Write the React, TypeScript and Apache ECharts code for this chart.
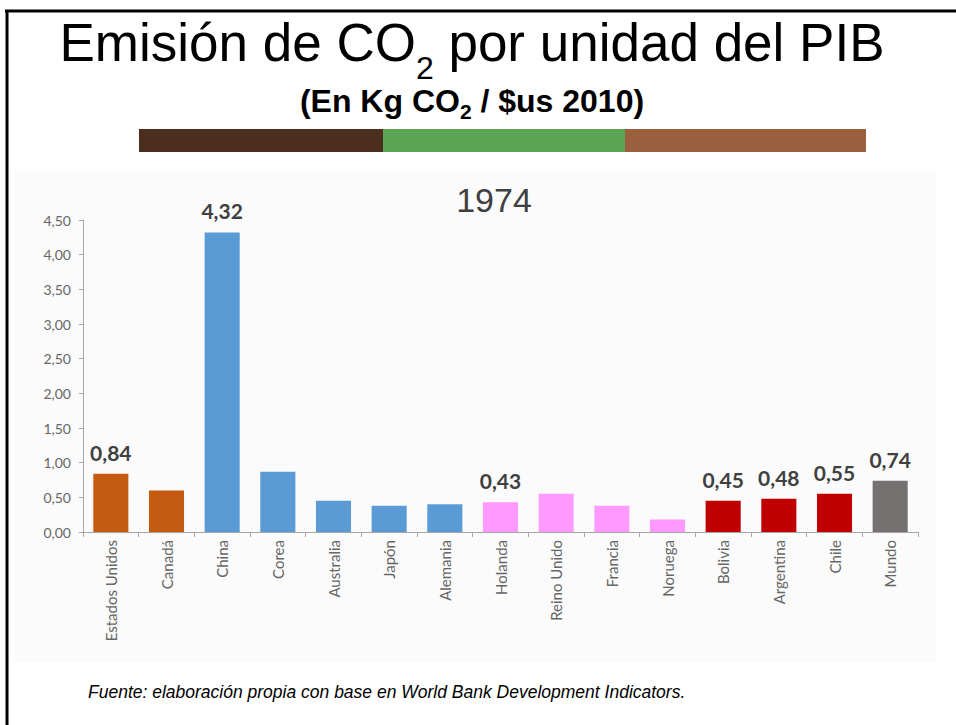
import React, { useEffect, useRef } from "react";
import * as echarts from "echarts";

const categories = ["Estados Unidos", "Canadá", "China", "Corea", "Australia", "Japón", "Alemania", "Holanda", "Reino Unido", "Francia", "Noruega", "Bolivia", "Argentina", "Chile", "Mundo"];
const values = [0.84, 0.60, 4.32, 0.87, 0.45, 0.38, 0.40, 0.43, 0.55, 0.38, 0.18, 0.45, 0.48, 0.55, 0.74];
const groups = ["na", "na", "asia", "asia", "asia", "asia", "asia", "eu", "eu", "eu", "eu", "la", "la", "la", "world"];
const labelled = [true, false, true, false, false, false, false, true, false, false, false, true, true, true, true];
const groupColors: Record<string, string> = {
  na: "#C55A11",
  asia: "#5B9BD5",
  eu: "#FF99FF",
  la: "#C00000",
  world: "#767171",
};
const yTicks = [0, 0.5, 1, 1.5, 2, 2.5, 3, 3.5, 4, 4.5];
const chartYear = "1974";
const titleParts = ["Emisión de CO", "2", " por unidad del PIB"];
const subtitleParts = ["(En Kg CO", "2", " / $us 2010)"];
const footer = "Fuente: elaboración propia con base en World Bank Development Indicators.";
const stripeColors = ["#4B2E1E", "#5BA555", "#9A5F3C"];

const fmt = (v: number) => v.toFixed(2).replace(".", ",");

function measure(text: string, font: string): number {
  const c = document.createElement("canvas").getContext("2d");
  if (!c) return text.length * 10;
  c.font = font;
  return c.measureText(text).width;
}

function subscriptText(parts: string[], cx: number, yMain: number, ySub: number, size: number, subSize: number, weight: string) {
  const fam = "'Liberation Sans', Arial, sans-serif";
  const f1 = `${weight} ${size}px ${fam}`;
  const f2 = `${weight} ${subSize}px ${fam}`;
  const w0 = measure(parts[0], f1);
  const w1 = measure(parts[1], f2);
  const w2 = measure(parts[2], f1);
  const x0 = cx - (w0 + w1 + w2) / 2;
  const base = { fill: "#000", fontFamily: fam, fontWeight: weight as any };
  return [
    { type: "text", x: x0, y: yMain, style: { ...base, text: parts[0], fontSize: size, textAlign: "left", textVerticalAlign: "middle" } },
    { type: "text", x: x0 + w0, y: ySub, style: { ...base, text: parts[1], fontSize: subSize, textAlign: "left", textVerticalAlign: "middle" } },
    { type: "text", x: x0 + w0 + w1, y: yMain, style: { ...base, text: parts[2], fontSize: size, textAlign: "left", textVerticalAlign: "middle" } },
  ];
}

export default function App() {
  const ref = useRef<HTMLDivElement>(null);
  useEffect(() => {
    if (!ref.current) return;
    const chart = echarts.init(ref.current, null, { renderer: "svg" });
    const stripeX = [139, 383, 625, 866];
    const stripes = stripeColors.map((c, i) => ({
      type: "rect",
      shape: { x: stripeX[i], y: 129, width: stripeX[i + 1] - stripeX[i], height: 23 },
      style: { fill: c },
    }));
    chart.setOption({
      animation: false,
      backgroundColor: "#ffffff",
      graphic: [
        { type: "rect", z: -10, shape: { x: 15, y: 169, width: 921, height: 493 }, style: { fill: "#fbfbfb" } },
        { type: "line", shape: { x1: 5, y1: 11, x2: 956, y2: 11 }, style: { stroke: "#000", lineWidth: 3 } },
        { type: "line", shape: { x1: 7, y1: 10, x2: 7, y2: 725 }, style: { stroke: "#000", lineWidth: 3 } },
        ...subscriptText(titleParts, 472, 42, 68, 53, 32, "normal"),
        ...subscriptText(subtitleParts, 472, 101, 111, 32, 21, "bold"),
        ...stripes,
        {
          type: "text", x: 494, y: 200,
          style: { text: chartYear, fontSize: 34, fill: "#404040", fontFamily: "'Liberation Sans', Arial, sans-serif", textAlign: "center", textVerticalAlign: "middle" },
        },
        {
          type: "text", x: 88, y: 692,
          style: { text: footer, fontSize: 17.5, fontStyle: "italic", fill: "#000", fontFamily: "'Liberation Sans', Arial, sans-serif", textAlign: "left", textVerticalAlign: "middle" },
        },
      ],
      grid: { left: 83, right: 38, top: 220, bottom: 193, containLabel: false },
      xAxis: {
        type: "category",
        data: categories,
        axisLine: { lineStyle: { color: "#a6a6a6", width: 1 } },
        axisTick: { show: true, length: 5, lineStyle: { color: "#a6a6a6" } },
        axisLabel: { rotate: 90, color: "#666", fontSize: 15, fontFamily: "Lato, sans-serif", margin: 8, interval: 0 },
      },
      yAxis: {
        type: "value",
        min: 0,
        max: yTicks[yTicks.length - 1],
        interval: yTicks[1] - yTicks[0],
        axisLine: { show: true, lineStyle: { color: "#a6a6a6" } },
        axisTick: { show: true, length: 4, lineStyle: { color: "#a6a6a6" } },
        splitLine: { show: false },
        axisLabel: { color: "#666", fontSize: 14, fontFamily: "Lato, sans-serif", margin: 12, formatter: (v: number) => fmt(v) },
      },
      series: [
        {
          type: "bar",
          barCategoryGap: "37%",
          data: values.map((v, i) => ({
            value: v,
            itemStyle: { color: groupColors[groups[i]] },
            label: {
              show: labelled[i],
              position: "top",
              distance: 11,
              formatter: () => fmt(v),
              fontSize: 21,
              fontWeight: "bold",
              color: "#404040",
              fontFamily: "Lato, sans-serif",
            },
          })),
        },
      ],
    });
    return () => chart.dispose();
  }, []);
  return <div ref={ref} style={{ position: "fixed", left: 0, top: 0, width: 956, height: 725 }} />;
}
